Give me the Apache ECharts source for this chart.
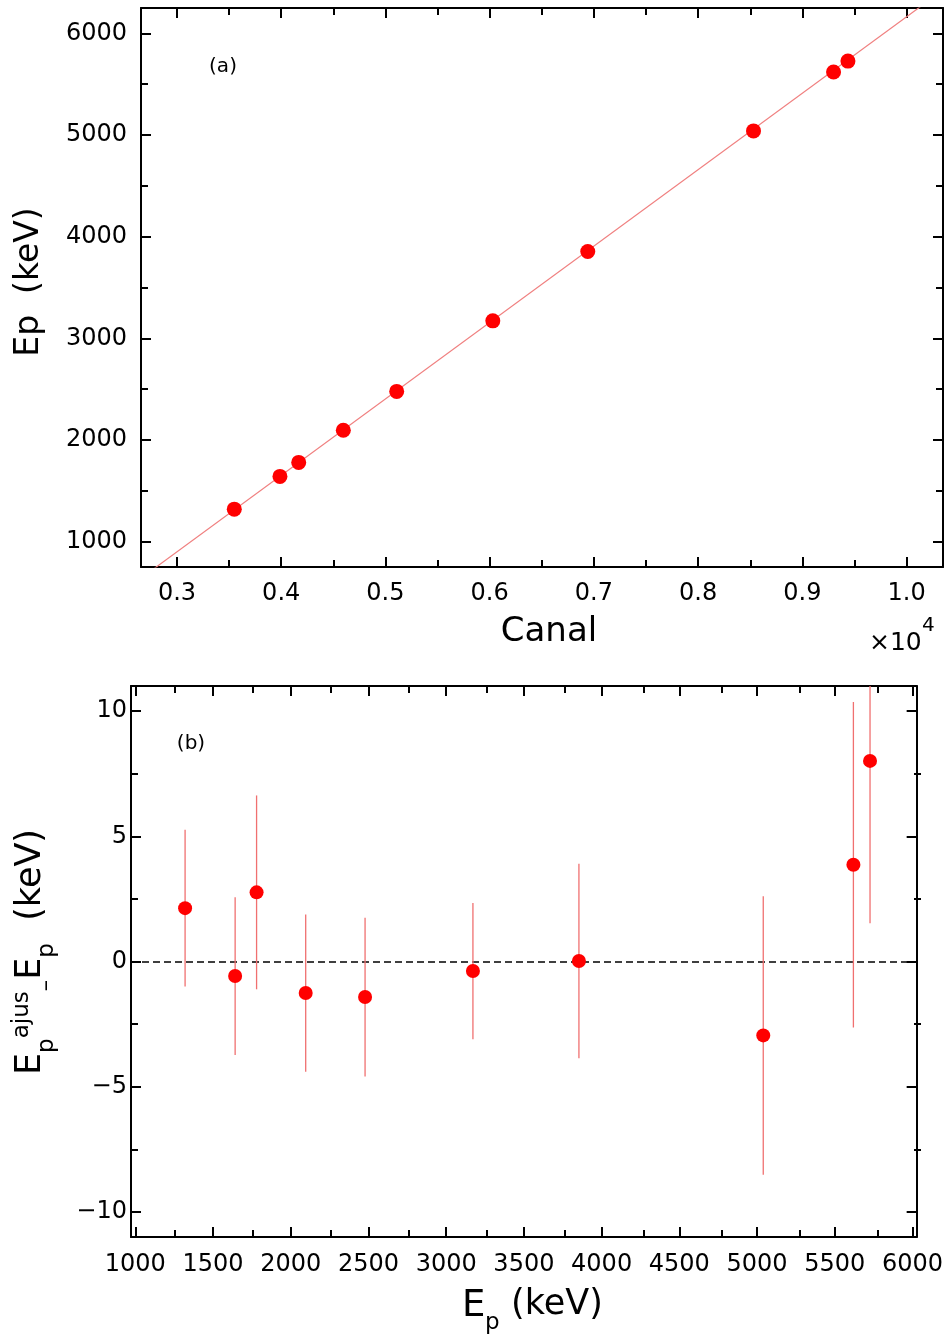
<!DOCTYPE html>
<html><head><meta charset="utf-8">
<script src="https://cdn.jsdelivr.net/npm/echarts@6/dist/echarts.min.js"></script>
<style>html,body{margin:0;padding:0;background:#fff}#c{width:946px;height:1338px}</style>
</head><body><div id="c"></div>
<script>
// ---- data ----
const canal = [3550, 3988, 4168, 4596, 5108, 6030, 6941, 8531, 9299, 9437];
const energy = [1320, 1642, 1780, 2096, 2478, 3172, 3854, 5040, 5620, 5727];
const residual = [2.13, -0.58, 2.76, -1.26, -1.42, -0.38, 0.02, -2.95, 3.86, 8.01];
const residualErr = [3.13, 3.15, 3.87, 3.14, 3.17, 2.72, 3.88, 5.56, 6.50, 6.48];
const fitCanal = [2650, 10350];
const fitEnergy = [637, 6426];

// ---- axis ranges and ticks ----
const topXRange = [2655, 10349];
const topYRange = [751, 6249];
const botXRange = [972, 6027];
const botYRange = [-11, 11];
const topXMajor = [3000, 4000, 5000, 6000, 7000, 8000, 9000, 10000];
const topXMinor = [3500, 4500, 5500, 6500, 7500, 8500, 9500];
const topYMajor = [1000, 2000, 3000, 4000, 5000, 6000];
const topYMinor = [1500, 2500, 3500, 4500, 5500];
const botXMajor = [1000, 1500, 2000, 2500, 3000, 3500, 4000, 4500, 5000, 5500, 6000];
const botXMinor = [1250, 1750, 2250, 2750, 3250, 3750, 4250, 4750, 5250, 5750];
const botYMajor = [-10, -5, 0, 5, 10];
const botYMinor = [-7.5, -2.5, 2.5, 7.5];

const FONT = 'DejaVu Sans';
const BLACK = '#000';

function axis(kind, grid, pos, range, ticks, opts) {
  opts = opts || {};
  return {
    type: 'value', gridIndex: grid, position: pos, min: range[0], max: range[1],
    axisLine: { show: !!opts.line, onZero: false, lineStyle: { color: BLACK, width: 2 } },
    axisTick: { show: true, inside: true, length: opts.tickLen || 10, customValues: ticks,
                lineStyle: { color: BLACK, width: 2 } },
    axisLabel: opts.label ? { show: true, customValues: ticks, formatter: opts.formatter,
                fontSize: 24, fontFamily: FONT, color: BLACK, margin: opts.margin } : { show: false },
    splitLine: { show: false },
    minorTick: { show: false }
  };
}

const xAxes = [
  axis('x', 0, 'bottom', topXRange, topXMajor, { line: true, label: true, margin: 15,
       formatter: v => (v / 10000).toFixed(1) }),
  axis('x', 0, 'top', topXRange, topXMajor, { line: true }),
  axis('x', 1, 'bottom', topXRange, topXMinor, { tickLen: 7 }),
  axis('x', 1, 'top', topXRange, topXMinor, { tickLen: 7 }),
  axis('x', 2, 'bottom', botXRange, botXMajor, { line: true, label: true, margin: 16,
       formatter: v => String(v) }),
  axis('x', 2, 'top', botXRange, botXMajor, { line: true }),
  axis('x', 3, 'bottom', botXRange, botXMinor, { tickLen: 7 }),
  axis('x', 3, 'top', botXRange, botXMinor, { tickLen: 7 })
];
const yAxes = [
  axis('y', 0, 'left', topYRange, topYMajor, { line: true, label: true, margin: 14,
       formatter: v => String(v) }),
  axis('y', 0, 'right', topYRange, topYMajor, { line: true }),
  axis('y', 1, 'left', topYRange, topYMinor, { tickLen: 7 }),
  axis('y', 1, 'right', topYRange, topYMinor, { tickLen: 7 }),
  axis('y', 2, 'left', botYRange, botYMajor, { line: true, label: true, margin: 4,
       formatter: v => (v < 0 ? '\u2212' + Math.abs(v) : String(v)) }),
  axis('y', 2, 'right', botYRange, botYMajor, { line: true }),
  axis('y', 3, 'left', botYRange, botYMinor, { tickLen: 7 }),
  axis('y', 3, 'right', botYRange, botYMinor, { tickLen: 7 })
];

const topRect = { left: 141, top: 8, width: 802, height: 559 };
const botRect = { left: 131, top: 686, width: 790, height: 551 };

const option = {
  animation: false,
  backgroundColor: '#fff',
  textStyle: { fontFamily: FONT },
  grid: [
    Object.assign({}, topRect), Object.assign({}, topRect),
    Object.assign({}, botRect), Object.assign({}, botRect)
  ],
  xAxis: xAxes,
  yAxis: yAxes,
  series: [
    {
      type: 'line', xAxisIndex: 0, yAxisIndex: 0, silent: true, clip: true,
      data: fitCanal.map((c, i) => [c, fitEnergy[i]]),
      symbol: 'none', lineStyle: { color: '#f08080', width: 1.2 }, z: 2
    },
    {
      type: 'scatter', xAxisIndex: 0, yAxisIndex: 0,
      data: canal.map((c, i) => [c, energy[i]]),
      symbolSize: 15, itemStyle: { color: '#ff0000', opacity: 1 }, z: 3
    },
    {
      type: 'custom', xAxisIndex: 4, yAxisIndex: 4, clip: true, silent: true,
      data: energy.map((e, i) => [e, residual[i], residualErr[i]]),
      encode: { x: 0, y: 1 },
      renderItem: function (params, api) {
        const x = api.value(0), y = api.value(1), err = api.value(2);
        const p1 = api.coord([x, y - err]);
        const p2 = api.coord([x, y + err]);
        return { type: 'line', shape: { x1: p1[0], y1: p1[1], x2: p2[0], y2: p2[1] },
                 style: { stroke: '#f07070', lineWidth: 1.3 } };
      },
      z: 2
    },
    {
      type: 'scatter', xAxisIndex: 4, yAxisIndex: 4,
      data: energy.map((e, i) => [e, residual[i]]),
      symbolSize: 14, itemStyle: { color: '#ff0000', opacity: 1 }, z: 3,
      markLine: {
        silent: true, symbol: 'none', label: { show: false },
        lineStyle: { type: [7, 4], color: BLACK, width: 1.5 },
        data: [{ yAxis: 0 }], z: 1
      }
    }
  ],
  graphic: [
    { type: 'text', x: 223, y: 67, style: { text: '(a)', font: '20px ' + FONT, fill: BLACK, align: 'center', verticalAlign: 'middle' } },
    { type: 'text', x: 191, y: 744, style: { text: '(b)', font: '20px ' + FONT, fill: BLACK, align: 'center', verticalAlign: 'middle' } },
    { type: 'text', x: 29, y: 282, rotation: Math.PI / 2,
      style: { text: 'Ep  (keV)', font: '33px ' + FONT, fill: BLACK, align: 'center', verticalAlign: 'middle' } },
    { type: 'text', x: 549, y: 632,
      style: { text: 'Canal', font: '34px ' + FONT, fill: BLACK, align: 'center', verticalAlign: 'middle' } },
    { type: 'text', x: 869, y: 643,
      style: { text: '\u00d710', font: '25px ' + FONT, fill: BLACK, align: 'left', verticalAlign: 'middle' } },
    { type: 'text', x: 922, y: 626,
      style: { text: '4', font: '20px ' + FONT, fill: BLACK, align: 'left', verticalAlign: 'middle' } },
    { type: 'text', x: 462, y: 1306,
      style: { text: 'E', font: '37px ' + FONT, fill: BLACK, align: 'left', verticalAlign: 'middle' } },
    { type: 'text', x: 485, y: 1323,
      style: { text: 'p', font: '23px ' + FONT, fill: BLACK, align: 'left', verticalAlign: 'middle' } },
    { type: 'text', x: 511, y: 1305,
      style: { text: '(keV)', font: '35px ' + FONT, fill: BLACK, align: 'left', verticalAlign: 'middle' } },
    { type: 'text', x: 31, y: 952, rotation: Math.PI / 2,
      style: {
        text: '{m|E}{sub|p}{sup|ajus}{sub|\u2013}{m|E}{sub|p}{m|  (keV)}',
        align: 'center', verticalAlign: 'middle',
        rich: {
          m: { fontFamily: FONT, fontSize: 35, lineHeight: 56, verticalAlign: 'middle', color: BLACK },
          sub: { fontFamily: FONT, fontSize: 23, lineHeight: 23, verticalAlign: 'bottom', color: BLACK },
          sup: { fontFamily: FONT, fontSize: 23, lineHeight: 23, verticalAlign: 'top', padding: [8, 0, 0, 0], color: BLACK }
        }
      } }
  ]
};

const chart = echarts.init(document.getElementById('c'), null, { renderer: 'canvas' });
chart.setOption(option);
</script>
</body></html>
